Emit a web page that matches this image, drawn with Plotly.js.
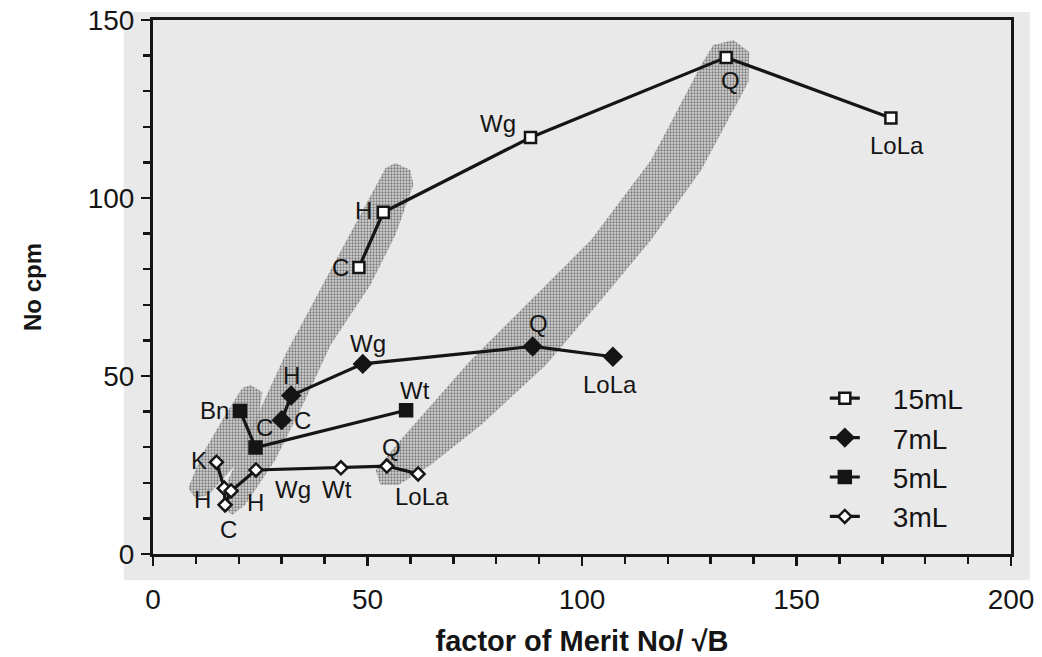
<!DOCTYPE html>
<html>
<head>
<meta charset="utf-8">
<script src="https://cdn.plot.ly/plotly-3.0.1.min.js"></script>
<style>html,body{margin:0;padding:0;background:#fff;}#chart{width:1042px;height:657px;}</style>
</head>
<body>
<div id="chart"></div>
<script>
// ---- data ----
var x15 = [48, 53.7, 88, 133.6, 172];
var y15 = [80.5, 96, 117, 139.5, 122.5];
var lab15 = ['C', 'H', 'Wg', 'Q', 'LoLa'];

var x7 = [30, 32.2, 48.9, 88.5, 107.2];
var y7 = [37.6, 44.5, 53.4, 58.3, 55.4];
var lab7 = ['C', 'H', 'Wg', 'Q', 'LoLa'];

var x5 = [20.3, 23.9, 59];
var y5 = [40.2, 29.9, 40.4];
var lab5 = ['Bn', 'C', 'Wt'];

var x3 = [14.8, 16.6, 16.8, 18.2, 24.0, 43.8, 54.5, 61.8];
var y3 = [25.8, 18.5, 13.8, 17.7, 23.6, 24.2, 24.7, 22.5];
var lab3 = ['K', 'H', 'C', 'H', 'Wg', 'Wt', 'Q', 'LoLa'];

var seriesNames = ['15mL', '7mL', '5mL', '3mL'];
var xTicks = [0, 50, 100, 150, 200];
var yTicks = [0, 50, 100, 150];

// highlighted (stippled) bands, outline in data units
var bandAx = [56.5, 60.0, 60.7, 56.5, 50.7, 41.4, 35.5, 28.5, 21.5, 18.5, 16.1, 17.5, 23.8, 30.8, 41.4, 49.5, 54.2];
var bandAy = [109.8, 107.9, 103.7, 89.6, 75.6, 58.7, 43.3, 26.4, 13.8, 11.0, 12.9, 20.8, 37.6, 55.9, 79.8, 98.0, 108.4];
var bandBx = [22.7, 25.5, 24.5, 19.2, 12.9, 9.8, 8.2, 11.0, 16.8, 20.8];
var bandBy = [47.5, 45.5, 37.6, 25.0, 16.6, 15.7, 18.5, 27.0, 39.0, 46.6];
var bandCx = [130.6, 135.3, 139.0, 138.8, 127.8, 116.1, 104.4, 91.6, 76.4, 64.7, 57.2, 53.0, 51.9, 57.7, 74.1, 88.1, 102.1, 116.1, 127.8];
var bandCy = [143.0, 144.4, 141.0, 132.6, 107.9, 88.2, 71.3, 53.1, 36.2, 25.0, 19.4, 19.4, 23.6, 32.0, 54.5, 71.3, 88.2, 110.7, 137.4];

// ---- styling ----
var FONT = 'Liberation Sans, Arial, Helvetica, sans-serif';
var INK = '#151515';
var LEGEND_PAD = '\u2002\u2002';

function band(xs, ys) {
  return {
    x: xs.concat([xs[0]]), y: ys.concat([ys[0]]),
    mode: 'lines', fill: 'toself', showlegend: false, hoverinfo: 'skip',
    line: {width: 0, color: 'rgba(0,0,0,0)'},
    fillcolor: 'rgba(0,0,0,0)',
    fillpattern: {shape: '.', fgcolor: '#7a7a7a', bgcolor: 'rgba(200,200,200,0.6)', size: 3, solidity: 0.45}
  };
}

function series(xs, ys, name, symbol, fill, size) {
  return {
    x: xs, y: ys, name: LEGEND_PAD + name, mode: 'lines+markers', type: 'scatter',
    line: {color: INK, width: 3.2},
    marker: {symbol: symbol, size: size, color: fill, line: {color: INK, width: 2.5}}
  };
}

var traces = [
  band(bandAx, bandAy), band(bandBx, bandBy), band(bandCx, bandCy),
  series(x15, y15, seriesNames[0], 'square', '#ffffff', 11),
  series(x7, y7, seriesNames[1], 'diamond', INK, 13),
  series(x5, y5, seriesNames[2], 'square', INK, 12),
  series(x3, y3, seriesNames[3], 'diamond', '#ffffff', 10)
];

// label offsets (pixels) for the point labels
var off15 = [[-18, 0], [-20, -2], [-33, -14], [4, 23], [6, 28]];
var off7 = [[21, 0], [0, -20], [5, -20], [6, -23], [-3, 28]];
var off5 = [[-26, 0], [9, -20], [9, -20]];
var off3 = [[-17, -2], [-22, 11], [3, 25], [24, 12], [37, 20], [-4, 22], [5, -19], [4, 23]];

var annotations = [];
function addLabels(xs, ys, labs, offs) {
  for (var i = 0; i < xs.length; i++) {
    annotations.push({
      x: xs[i], y: ys[i], xref: 'x', yref: 'y', text: labs[i], showarrow: false,
      xshift: offs[i][0], yshift: -offs[i][1],
      font: {family: FONT, size: 24, color: INK}
    });
  }
}
addLabels(x15, y15, lab15, off15);
addLabels(x7, y7, lab7, off7);
addLabels(x5, y5, lab5, off5);
addLabels(x3, y3, lab3, off3);

var axisCommon = {
  showline: true, linecolor: INK, linewidth: 3, mirror: true,
  showgrid: false, zeroline: false,
  ticks: 'outside', ticklen: 9, tickwidth: 2.5, tickcolor: INK,
  tickfont: {family: FONT, size: 28, color: INK},
  minor: {dtick: 10, ticks: 'outside', ticklen: 7, tickwidth: 2.5, tickcolor: INK, showgrid: false},
  automargin: false, fixedrange: true
};

var layout = {
  width: 1042, height: 657,
  margin: {l: 153, r: 31, t: 20, b: 103},
  paper_bgcolor: '#ffffff', plot_bgcolor: 'rgba(0,0,0,0)',
  showlegend: true,
  xaxis: Object.assign({}, axisCommon, {
    range: [0, 200], tickvals: xTicks, ticktext: xTicks.map(String), ticklabelstandoff: 9,
    title: {text: 'factor of Merit No/ √B', font: {family: FONT, size: 29, color: INK, weight: 'bold'}, standoff: 18}
  }),
  yaxis: Object.assign({}, axisCommon, {
    range: [0, 150], tickvals: yTicks, ticktext: yTicks.map(String), ticklabelstandoff: 1,
    title: {text: 'No cpm', font: {family: FONT, size: 24, color: INK, weight: 'bold'}, standoff: 40}
  }),
  legend: {
    x: 0.783, y: 0.338, xanchor: 'left', yanchor: 'top',
    bgcolor: 'rgba(0,0,0,0)', borderwidth: 0,
    font: {family: FONT, size: 28, color: INK}, itemwidth: 30, tracegroupgap: 0
  },
  shapes: [{
    type: 'rect', xref: 'paper', yref: 'paper', layer: 'below',
    x0: -0.034, x1: 1.022, y0: -0.049, y1: 1.015,
    fillcolor: '#e9e9e9', line: {width: 0}
  }],
  annotations: annotations
};

Plotly.newPlot('chart', traces, layout, {displayModeBar: false, staticPlot: true});
</script>
</body>
</html>
